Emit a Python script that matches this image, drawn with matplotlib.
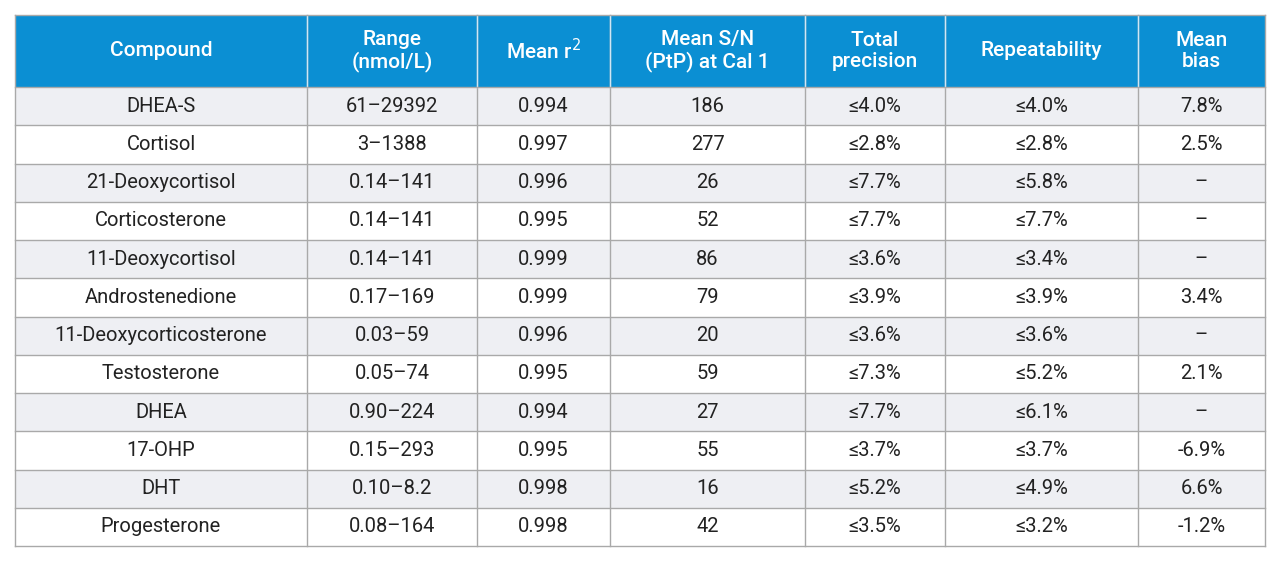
import matplotlib.pyplot as plt
from matplotlib.patches import Rectangle

plt.rcParams['font.family'] = 'Roboto'

headers = ['Compound', 'Range\n(nmol/L)', 'Mean r$^2$', 'Mean S/N\n(PtP) at Cal 1',
           'Total\nprecision', 'Repeatability', 'Mean\nbias']
compounds = ['DHEA-S', 'Cortisol', '21-Deoxycortisol', 'Corticosterone', '11-Deoxycortisol',
             'Androstenedione', '11-Deoxycorticosterone', 'Testosterone', 'DHEA', '17-OHP',
             'DHT', 'Progesterone']
ranges = ['61–29392', '3–1388', '0.14–141', '0.14–141', '0.14–141', '0.17–169', '0.03–59',
          '0.05–74', '0.90–224', '0.15–293', '0.10–8.2', '0.08–164']
mean_r2 = ['0.994', '0.997', '0.996', '0.995', '0.999', '0.999', '0.996', '0.995', '0.994',
           '0.995', '0.998', '0.998']
mean_sn = ['186', '277', '26', '52', '86', '79', '20', '59', '27', '55', '16', '42']
total_prec = ['≤4.0%', '≤2.8%', '≤7.7%', '≤7.7%', '≤3.6%', '≤3.9%', '≤3.6%', '≤7.3%', '≤7.7%',
              '≤3.7%', '≤5.2%', '≤3.5%']
repeat = ['≤4.0%', '≤2.8%', '≤5.8%', '≤7.7%', '≤3.4%', '≤3.9%', '≤3.6%', '≤5.2%', '≤6.1%',
          '≤3.7%', '≤4.9%', '≤3.2%']
bias = ['7.8%', '2.5%', '–', '–', '–', '3.4%', '–', '2.1%', '–', '-6.9%', '6.6%', '-1.2%']

columns = [compounds, ranges, mean_r2, mean_sn, total_prec, repeat, bias]
col_edges = [15, 307, 477, 610, 805, 945, 1138, 1265]
top, head_bot, bottom = 15, 87, 546
row_h = (bottom - head_bot) / len(compounds)

fig = plt.figure(figsize=(12.8, 5.65), dpi=100)
ax = fig.add_axes([0, 0, 1, 1])
ax.set_xlim(0, 1280)
ax.set_ylim(565, 0)
ax.axis('off')

blue = '#0b8fd3'
line = '#a9a9a9'

ax.add_patch(Rectangle((col_edges[0], top), col_edges[-1] - col_edges[0], head_bot - top,
                       facecolor=blue, edgecolor='none'))
for i in range(len(compounds)):
    y0 = head_bot + i * row_h
    if i % 2 == 0:
        ax.add_patch(Rectangle((col_edges[0], y0), col_edges[-1] - col_edges[0], row_h,
                               facecolor='#eeeff3', edgecolor='none'))

for j, h in enumerate(headers):
    xc = (col_edges[j] + col_edges[j + 1]) / 2
    ax.text(xc, (top + head_bot) / 2, h, ha='center', va='center', color='white',
            fontsize=15, fontweight='medium', linespacing=1.15)
    for i, v in enumerate(columns[j]):
        yc = head_bot + (i + 0.5) * row_h
        ax.text(xc, yc, v, ha='center', va='center', color='#222222', fontsize=14.5)

# grid lines
for x in col_edges:
    ax.plot([x, x], [top, bottom], color=line if x not in (col_edges[0], col_edges[-1]) else line, lw=1)
for x in col_edges[1:-1]:
    ax.plot([x, x], [top, head_bot], color='#d0e6f5', lw=1)
for i in range(len(compounds) + 1):
    y = head_bot + i * row_h
    ax.plot([col_edges[0], col_edges[-1]], [y, y], color=line, lw=1)
ax.plot([col_edges[0], col_edges[-1]], [top, top], color=line, lw=1)

fig.savefig('out.png', dpi=100)
